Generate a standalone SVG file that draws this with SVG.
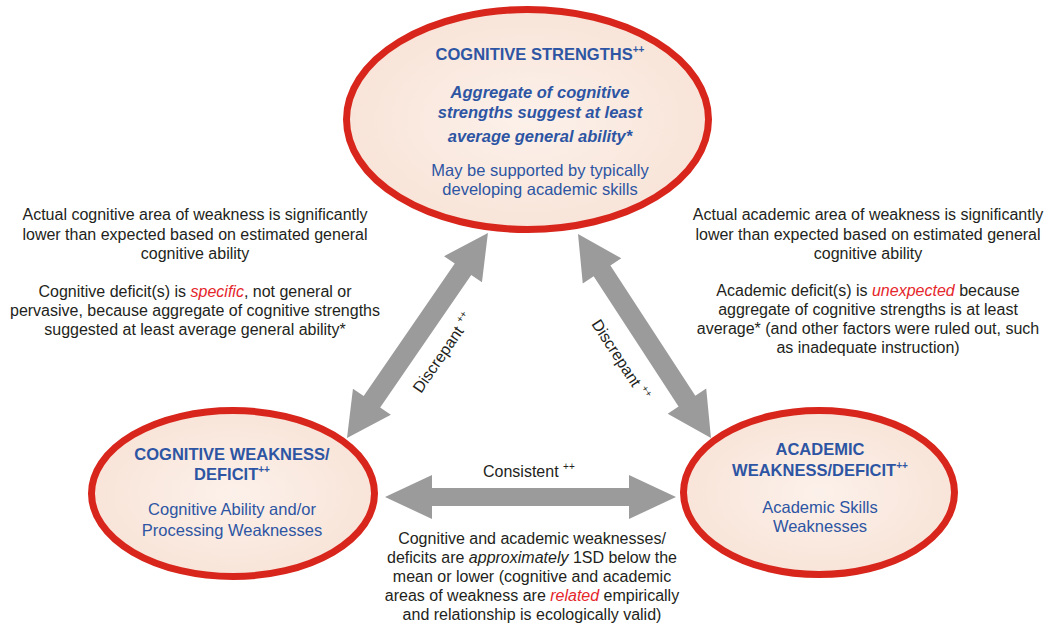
<svg xmlns="http://www.w3.org/2000/svg" width="1053" height="625" viewBox="0 0 1053 625">
<style>
.ell{fill:url(#fillg);stroke:#d8261c;stroke-width:7}
.arr{fill:#9b9b9b}
text{font-family:"Liberation Sans",Arial,sans-serif}
.t{font-size:16px;fill:#231f20}
.hd{font-size:16.5px;font-weight:bold;fill:#2d55a3}
.hi{font-size:16.5px;font-weight:bold;font-style:italic;fill:#2d55a3}
.bd{font-size:16.5px;fill:#2d55a3}
.red{fill:#e5262b;font-style:italic}
.it{font-style:italic}
.sup{font-size:10px}
</style>
<defs>
<radialGradient id="fillg" cx="50%" cy="50%" r="55%">
<stop offset="0" stop-color="#fcf1ea"/>
<stop offset="1" stop-color="#f8e3d7"/>
</radialGradient>
</defs>
<rect width="1053" height="625" fill="#ffffff"/>

<g id="connectors">
<polygon class="arr" transform="translate(347,438) rotate(-55.5)" points="0,0 44,-23 44,-10 204.8,-10 204.8,-23 248.8,0 204.8,23 204.8,10 44,10 44,23"/>
<polygon class="arr" transform="translate(578,234) rotate(56.9)" points="0,0 44,-23 44,-10 199.5,-10 199.5,-23 243.5,0 199.5,23 199.5,10 44,10 44,23"/>
<polygon class="arr" transform="translate(385,497)" points="0,0 47,-22 47,-9 244,-9 244,-22 291,0 244,22 244,9 47,9 47,22"/>
<text class="t" transform="translate(421,394) rotate(-55.5)">Discrepant <tspan class="sup" dy="-7">++</tspan></text>
<text class="t" transform="translate(591,324) rotate(56.9)">Discrepant <tspan class="sup" dy="-7">++</tspan></text>
<text class="t" x="483" y="477">Consistent <tspan class="sup" dy="-7">++</tspan></text>
</g>

<g id="cognitive-strengths">
<ellipse class="ell" cx="527.5" cy="119.5" rx="181" ry="110"/>
<text class="hd" x="540" y="60" text-anchor="middle">COGNITIVE STRENGTHS<tspan class="sup" dy="-7">++</tspan></text>
<text class="hi" text-anchor="middle"><tspan x="540" y="97.5">Aggregate of cognitive</tspan><tspan x="540" y="118">strengths suggest at least</tspan><tspan x="540" y="141.5">average general ability*</tspan></text>
<text class="bd" text-anchor="middle"><tspan x="540" y="176">May be supported by typically</tspan><tspan x="540" y="195">developing academic skills</tspan></text>
</g>

<g id="cognitive-weakness">
<ellipse class="ell" cx="233" cy="493.5" rx="141.5" ry="83"/>
<text class="hd" text-anchor="middle"><tspan x="232" y="460">COGNITIVE WEAKNESS/</tspan><tspan x="232" y="480">DEFICIT<tspan class="sup" dy="-7">++</tspan></tspan></text>
<text class="bd" text-anchor="middle"><tspan x="232" y="515">Cognitive Ability and/or</tspan><tspan x="232" y="536">Processing Weaknesses</tspan></text>
</g>

<g id="academic-weakness">
<ellipse class="ell" cx="819" cy="492.5" rx="135.5" ry="82"/>
<text class="hd" text-anchor="middle"><tspan x="820" y="455">ACADEMIC</tspan><tspan x="820" y="476">WEAKNESS/DEFICIT<tspan class="sup" dy="-7">++</tspan></tspan></text>
<text class="bd" text-anchor="middle"><tspan x="820" y="513">Academic Skills</tspan><tspan x="820" y="532">Weaknesses</tspan></text>
</g>

<g id="left-note">
<text class="t" text-anchor="middle"><tspan x="195" y="220">Actual cognitive area of weakness is significantly</tspan><tspan x="195" y="240">lower than expected based on estimated general</tspan><tspan x="195" y="259">cognitive ability</tspan></text>
<text class="t" text-anchor="middle"><tspan x="195" y="297">Cognitive deficit(s) is <tspan class="red">specific</tspan>, not general or</tspan><tspan x="195" y="316">pervasive, because aggregate of cognitive strengths</tspan><tspan x="195" y="335">suggested at least average general ability*</tspan></text>
</g>

<g id="right-note">
<text class="t" text-anchor="middle"><tspan x="868" y="220">Actual academic area of weakness is significantly</tspan><tspan x="868" y="240">lower than expected based on estimated general</tspan><tspan x="868" y="259">cognitive ability</tspan></text>
<text class="t" text-anchor="middle"><tspan x="868" y="296">Academic deficit(s) is <tspan class="red">unexpected</tspan> because</tspan><tspan x="868" y="315">aggregate of cognitive strengths is at least</tspan><tspan x="868" y="334">average* (and other factors were ruled out, such</tspan><tspan x="868" y="353">as inadequate instruction)</tspan></text>
</g>

<g id="bottom-note">
<text class="t" text-anchor="middle"><tspan x="532" y="544">Cognitive and academic weaknesses/</tspan><tspan x="532" y="563">deficits are <tspan class="it">approximately</tspan> 1SD below the</tspan><tspan x="532" y="582">mean or lower (cognitive and academic</tspan><tspan x="532" y="601">areas of weakness are <tspan class="red">related</tspan> empirically</tspan><tspan x="532" y="620">and relationship is ecologically valid)</tspan></text>
</g>
</svg>
